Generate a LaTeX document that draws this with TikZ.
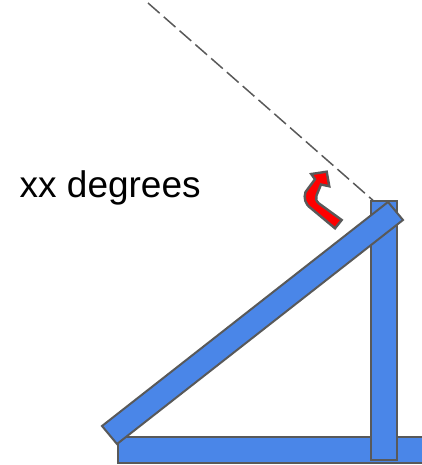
\documentclass[tikz,border=0pt]{standalone}
\usepackage{fontspec}
\setmainfont{Liberation Sans}
\usepackage{xcolor}
\definecolor{barblue}{HTML}{4A86E8}
\definecolor{barline}{HTML}{595959}
\tikzset{
  bar/.style={draw=barline, line width=2pt, fill=barblue, line join=miter},
  sightline/.style={draw=barline, line width=1.5pt, dash pattern=on 15.5pt off 5.5pt},
  bentarrow/.style={draw=barline, line width=2.4pt, fill=red, line join=miter},
  anglelabel/.style={font=\fontsize{37}{37}\selectfont, text=black, inner sep=0pt, anchor=base west}
}

\begin{document}
\begin{tikzpicture}[x=1pt, y=-1pt]
\useasboundingbox (0,0) rectangle (422,465);

% Sight line along the top of the sloped bar
\draw[sightline] (148,3) -- (376,203);

% Base bar, upright bar, sloped bar
\draw[bar] (118,437) -- (430,437) -- (430,462.5) -- (118,462.5) -- cycle;
\draw[bar] (371,201) rectangle (397,460);
\draw[bar] (388,202) -- (403,220) -- (117,444) -- (102,426) -- cycle;

% Bent arrow
\draw[bentarrow] (341.7,220) -- (319,203.5)
  .. controls (316,201) and (315.5,198.5) .. (316.5,195.5)
  -- (321,184.5) -- (329.3,186.3) -- (326.7,171.7) -- (311.2,174) -- (315,179.3)
  -- (305.5,192)
  .. controls (303.5,198) and (305,204) .. (311,208.3)
  -- (335,228.3) -- cycle;

% Label
\node[anglelabel] (angle) at (19.5,197.5) {xx degrees};

\end{tikzpicture}
\end{document}
